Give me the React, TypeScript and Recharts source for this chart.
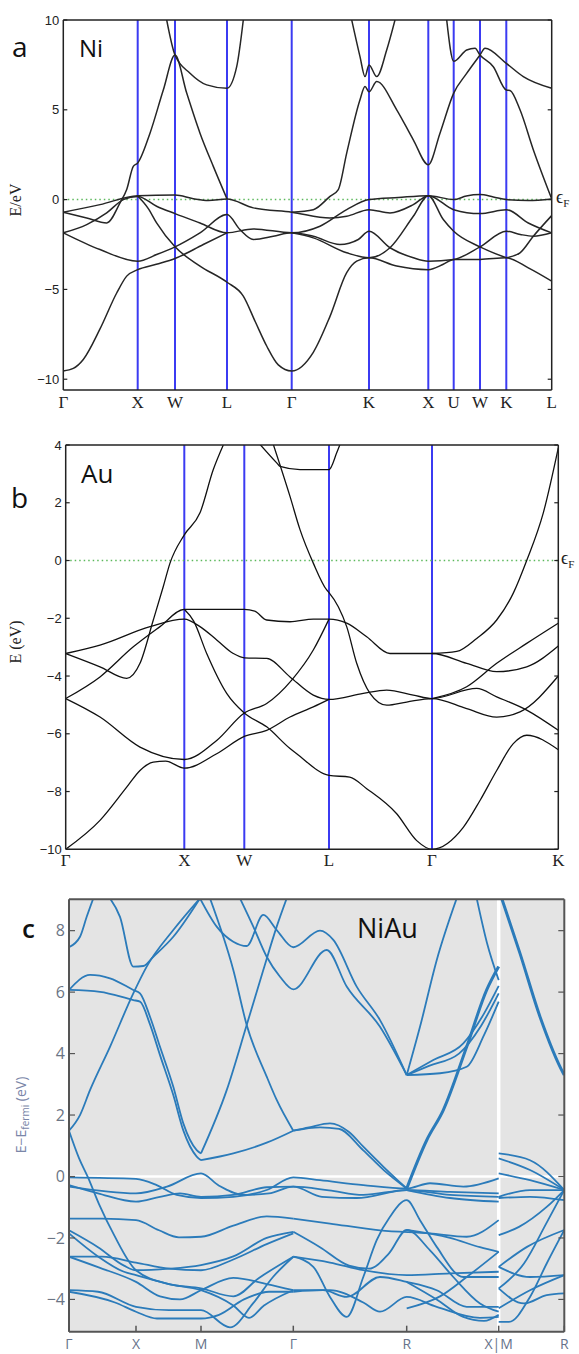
import React from "react";
import { LineChart, Line, XAxis, YAxis, ReferenceLine, CartesianGrid } from "recharts";

type Pt = [number, number];

// ---------- panel a : Ni ----------
const niKpts = [0, 74.4, 111.7, 163.7, 228.4, 305.7, 365, 390.4, 416.7, 443, 488.4];
const niKlabels = ["Γ", "X", "W", "L", "Γ", "K", "X", "U", "W", "K", "L"];
const niEticks = [10, 5, 0, -5, -10];
const niBands: Pt[][] = [
  [[0, -9.54], [10, -9.4], [20, -8.9], [36.7, -7.2], [53.4, -5.2], [63.4, -4.26], [74.4, -3.9], [93, -3.6], [111.7, -3.28], [140, -2.5], [163.7, -1.85]],
  [[74.4, 0.2], [85, -0.5], [93.3, -1.3], [111.7, -2.63], [136.7, -3.7], [163.7, -4.6], [180, -5.37], [192, -6.8], [203.4, -8.15], [215, -9.2], [228.4, -9.54], [250, -8.5], [266.7, -6.5], [283.4, -4.07], [293.4, -3.43], [305.7, -3.24], [333.4, -3.7], [365, -3.9], [380, -3.6], [390.4, -3.33], [416.7, -3.33], [443, -3.24], [465, -3.8], [488.4, -4.54]],
  [[0, -1.85], [36.7, -2.78], [74.4, -3.43], [93.3, -3.06], [111.7, -2.63], [136.7, -1.85], [163.7, -0.83], [176.7, -1.67], [190, -2.22], [210, -2.04], [228.4, -1.85], [250, -2.04], [276.7, -2.5], [295, -2.22], [305.7, -1.76], [326.7, -2.68], [350, -3.24], [365, -3.43], [390.4, -3.33], [416.7, -2.63], [443, -1.76], [457, -1.94], [470, -2.04], [488.4, -1.85]],
  [[0, -1.85], [23.4, -1.39], [43.4, -0.74], [60, 0], [74.4, 0.18], [93.3, -0.37], [111.7, -0.78], [136.7, -1.3], [163.7, -1.85], [190, -1.63], [228.4, -1.85], [256.7, -1.48], [283.4, -0.56], [305.7, 0], [335, 0.12], [365, 0.22], [390.4, 0], [403, 0.2], [416.7, 0.28], [430, 0.15], [443, 0], [465, -0.05], [488.4, 0.04]],
  [[0, -0.7], [36.7, -0.28], [74.4, 0.22], [111.7, 0.25], [130, 0.05], [145, -0.05], [163.7, 0.03], [190, -0.46], [228.4, -0.7], [266.7, -1.02], [283.4, -0.93], [305.7, -0.56], [326.7, -0.74], [350, -0.28], [365, 0.22], [390.4, -0.56], [416.7, -0.78], [443, -0.56], [465, -1.3], [488.4, -1.85]],
  [[0, -0.7], [23.4, -1.02], [43.4, -1.3], [56.7, -0.18], [63.4, 0.56], [70, 1.85], [74.4, 2.04], [86.7, 3.7], [100, 6.1], [111.7, 8.05], [123.4, 5.93], [136.7, 3.7], [150, 1.85], [163.7, 0.04]],
  [[103.4, 10], [111.7, 8.05], [126.7, 7.04], [143.4, 6.39], [163.7, 6.2], [173.4, 7.4], [180, 10]],
  [[228.4, -0.7], [250, -0.56], [266.7, 0.18], [275, 0.56], [283.4, 2.59], [296.7, 5.56], [301.7, 6.3], [305.7, 6.0], [313.4, 6.57], [333.4, 5.0], [350, 3.33], [365, 1.94], [376.7, 3.7], [390.4, 5.93], [403, 7.0], [416.7, 8.05], [421.7, 8.43], [443, 7.59], [460, 6.85], [488.4, 6.2]],
  [[288.4, 10], [296.7, 7.96], [301.7, 6.85], [305.7, 7.5], [313.4, 6.85], [323.4, 8.33], [331.7, 10]],
  [[383.4, 10], [390.4, 7.7], [403.4, 8.33], [411.7, 8.43], [416.7, 8.05], [430, 7.4], [443, 6.1], [446.7, 6.07], [456.7, 5.0], [470, 2.78], [488.4, 0.04]],
  [[228.4, -1.85], [250, -2.13], [283.4, -2.96], [305.7, -3.24], [326.7, -2.68], [350, -0.93], [365, 0.22], [380, -1.11], [390.4, -1.76], [416.7, -2.63], [443, -3.24]],
  [[443, -3.24], [456.7, -2.96], [470, -2.04], [488.4, -0.89]],
];

// ---------- panel b : Au ----------
const auKpts = [0, 118.6, 178.6, 263.3, 366.3, 492.6];
const auKlabels = ["Γ", "X", "W", "L", "Γ", "K"];
const auEticks = [4, 2, 0, -2, -4, -6, -8, -10];
const auBands: Pt[][] = [
  [[0, -3.22], [34.3, -2.93], [84.3, -2.29], [118.6, -2.03], [134.3, -2.29], [151, -2.75], [167.6, -3.22], [178.6, -3.37], [201, -3.39], [224.3, -4.03], [247.6, -4.66], [263.3, -4.81], [297.6, -4.6], [321, -4.49], [347.6, -4.66], [366.3, -4.78], [411, -4.43], [431, -4.72], [461, -5.18], [492.6, -5.88]],
  [[0, -3.22], [34.3, -3.68], [61, -4.08], [74.3, -3.56], [87.6, -2.06], [97.6, -0.9], [104.3, -0.09], [118.6, 0.89], [134.3, 1.65], [147.6, 3.15], [157.6, 4.0]],
  [[0, -4.78], [34.3, -4.03], [67.6, -2.99], [94.3, -2.29], [118.6, -1.69], [150, -1.69], [178.6, -1.69], [189, -1.75], [201, -2.06], [224.3, -2.12], [247.6, -2.03], [263.3, -2.03], [281, -2.17], [301, -2.64], [324.3, -3.22], [366.3, -3.22], [401, -3.56], [431, -3.85], [461, -3.68], [492.6, -2.96]],
  [[0, -4.78], [34.3, -5.42], [74.3, -6.46], [118.6, -6.89], [151, -6.23], [178.6, -5.28], [201, -4.95], [226, -4.14], [247.6, -3.1], [263.3, -2.03]],
  [[0, -10], [34.3, -9.0], [61, -7.85], [74.3, -7.27], [87.6, -6.98], [100, -6.95], [118.6, -7.19], [151, -6.69], [178.6, -6.09], [201, -5.88], [224.3, -5.42], [247.6, -5.07], [263.3, -4.81]],
  [[118.6, -1.69], [128, -2.1], [141, -3.22], [161, -4.6], [178.6, -5.28], [201, -5.76], [224.3, -6.51], [231, -6.69], [263.3, -7.44], [284, -7.5], [301, -7.9], [331, -8.77], [351, -9.7], [366.3, -10], [397.6, -9.24], [414.3, -8.31], [431, -7.27], [447.6, -6.34], [461, -6.05], [492.6, -6.55]],
  [[207.6, 4.02], [224.3, 2.22], [234.3, 1.07], [247.6, -0.09], [261, -1.02], [263.3, -1.11], [272.6, -1.6], [281, -2.29], [291, -3.56], [304.3, -4.6], [321, -5.01], [341, -4.9], [366.3, -4.78], [401, -5.13], [431, -5.42], [454.3, -5.24], [492.6, -4.0]],
  [[194.3, 4.02], [211, 3.38], [214.3, 3.26], [234.3, 3.15], [263.3, 3.15], [271, 3.73], [274.3, 4.02]],
  [[366.3, -3.22], [391, -3.15], [411, -2.7], [431, -2.06], [447.6, -1.13], [461, 0], [477.6, 1.65], [492.6, 3.9]],
  [[366.3, -4.78], [401, -4.37], [431, -3.56], [461, -2.87], [492.6, -2.17]],
];

// ---------- panel c : NiAu ----------
const niauKpts = [0, 67, 132, 224.3, 337.7, 429.7, 495.3];
const niauKlabels = ["Γ", "X", "M", "Γ", "R", "X|M", "R"];
const niauEticks = [8, 6, 4, 2, 0, -2, -4];
const niauBands: Pt[][] = [
  [[0, 7.46], [11, 7.8], [17.7, 8.45], [24.3, 9.05]],
  [[41, 9.05], [51, 8.45], [64.3, 6.83], [74.3, 6.85], [84.3, 7.15], [104.3, 7.8], [131, 9.05]],
  [[0, 6.07], [21, 6.56], [41, 6.45], [64.3, 6.07], [71, 5.96], [81, 5.2], [91, 4.22], [104.3, 2.92], [114.3, 1.73], [127.7, 0.86], [132, 0.75]],
  [[0, 6.07], [31, 6.01], [64.3, 5.74], [71, 5.69], [81, 4.95], [91, 3.95], [104.3, 2.65], [114.3, 1.5], [127.7, 0.65], [132, 0.53]],
  [[0, 1.49], [11, 2.0], [21, 2.81], [41, 4.22], [64.3, 5.96], [77.7, 6.83], [104.3, 8.02], [131, 9.05]],
  [[132, 0.75], [157.7, 2.81], [177.7, 4.93], [194.3, 6.72], [207.7, 8.13], [217.7, 9.05]],
  [[141, 9.05], [164.3, 6.72], [177.7, 4.93], [197.7, 3.25], [207.7, 2.49], [224.3, 1.49]],
  [[131, 9.05], [147.7, 8.13], [164.3, 7.64], [177.7, 7.5], [194.3, 8.51], [207.7, 8.02], [224.3, 7.46], [251, 8.0], [264.3, 7.7], [287.7, 6.18], [311, 5.09], [337.7, 3.3]],
  [[171, 9.05], [184.3, 8.13], [197.7, 7.15], [211, 6.5], [224.3, 6.09], [257.7, 7.37], [277.7, 6.18], [311, 4.87], [337.7, 3.3]],
  [[337.7, 3.3], [351, 4.87], [367.7, 7.04], [387.7, 9.05]],
  [[407.7, 9.05], [418, 7.6], [429.7, 6.39]],
  [[337.7, 3.3], [371, 3.36], [397.7, 3.57], [415, 4.6], [429.7, 5.69]],
  [[337.7, 3.3], [364.3, 3.79], [394.3, 4.33], [415, 5.3], [429.7, 6.2]],
  [[337.7, 3.3], [360, 3.6], [390, 4.0], [412, 4.9], [429.7, 5.96]],
  [[224.3, 1.49], [240, 1.6], [261, 1.73], [280, 1.45], [294.3, 0.97], [315, 0.3], [337.7, -0.39]],
  [[224.3, 1.49], [251, 1.6], [270, 1.55], [294.3, 0.85], [315, 0.2], [337.7, -0.39]],
  [[132, 0.53], [164.3, 0.75], [197.7, 1.1], [224.3, 1.49]],
  [[0, -0.03], [67, -0.08], [87.7, -0.28], [107.7, -0.6], [132, -0.7], [164.3, -0.66], [197.7, -0.44], [224.3, -0.03], [251, -0.12], [294.3, -0.28], [337.7, -0.39], [361, -0.22], [394.3, -0.33], [429.7, -0.06]],
  [[0, -0.28], [29, -0.55], [67, -0.82], [91, -0.66], [111, -0.55], [132, -0.66], [164.3, -0.6], [197.7, -0.35], [224.3, -0.33], [260, -0.45], [294.3, -0.6], [337.7, -0.44], [381, -0.5], [429.7, -0.55]],
  [[0, -0.33], [67, -0.55], [98, -0.33], [132, 0.1], [150, -0.3], [175, -0.6], [200, -0.55], [224.3, -0.33], [253, -0.66], [287.7, -0.7], [337.7, -0.44], [381, -0.6], [429.7, -0.66]],
  [[0, 1.49], [10, 0.6], [19, -0.03], [30, -0.9], [45, -1.9], [67, -3.05], [100, -3.5], [132, -3.64], [164.3, -3.9], [190, -3.3], [224.3, -2.61]],
  [[224.3, -2.61], [244.3, -2.94], [261, -3.92], [277.7, -4.57], [294.3, -3.27], [307.7, -2.07], [321, -1.31], [337.7, -0.77], [351, -1.42], [367.7, -2.29], [394.3, -3.27], [429.7, -3.27]],
  [[224.3, -1.8], [251, -2.3], [280, -2.9], [300, -3.0], [320, -2.5], [337.7, -1.74], [361, -2.4], [384.3, -3.27], [411, -4.13], [429.7, -4.4]],
  [[224.3, -1.37], [261, -1.53], [311, -1.75], [361, -1.85], [397.7, -1.96], [429.7, -1.42]],
  [[224.3, -3.7], [261, -3.7], [294.3, -4.1], [311, -4.4], [337.7, -3.92], [367.7, -4.24], [411, -4.6], [429.7, -4.57]],
  [[224.3, -2.61], [261, -2.8], [294.3, -3.05], [337.7, -3.21], [381, -3.15], [429.7, -3.1]],
  [[224.3, -3.75], [254, -3.7], [277.7, -3.92], [311, -3.27], [337.7, -3.43], [367.7, -3.7], [397.7, -4.24], [429.7, -4.24]],
  [[337.7, -0.44], [381, -0.7], [429.7, -0.82]],
  [[337.7, -1.74], [381, -2.0], [411, -2.3], [429.7, -2.45]],
  [[337.7, -4.29], [371, -3.9], [397.7, -3.27], [429.7, -2.45]],
  [[337.7, -3.43], [367.7, -4.0], [394.3, -4.57], [415, -4.7], [429.7, -4.5]],
  [[0, -1.37], [33, -1.37], [67, -1.42], [90, -1.75], [110, -1.98], [132, -1.96], [164.3, -1.6], [197.7, -1.3], [224.3, -1.37]],
  [[0, -1.75], [29, -2.3], [55, -2.9], [67, -3.05], [100, -3.0], [132, -2.88], [164.3, -2.6], [197.7, -2.0], [224.3, -1.8]],
  [[0, -1.85], [29, -2.6], [55, -3.1], [67, -3.21], [100, -3.5], [132, -3.7], [164.3, -4.2], [180, -4.6], [195, -4.2], [224.3, -3.7]],
  [[0, -2.61], [33, -2.61], [67, -2.8], [100, -3.0], [132, -3.05], [164.3, -2.7], [197.7, -2.2], [224.3, -1.85]],
  [[0, -2.61], [29, -2.95], [67, -3.43], [91, -3.9], [111, -4.0], [132, -3.7], [164.3, -3.3], [197.7, -3.5], [224.3, -3.7]],
  [[0, -3.7], [29, -3.75], [67, -4.24], [100, -4.35], [132, -4.35], [161, -4.91], [184, -4.13], [204, -3.27], [224.3, -2.61]],
  [[0, -3.75], [46, -4.1], [67, -4.4], [88, -4.62], [132, -4.62], [150, -4.5], [175, -4.0], [200, -3.75], [224.3, -3.75]],
  // M -> R segment
  [[429.7, 0.75], [461, 0.53], [495.3, -0.44]],
  [[429.7, 0.59], [461, 0.21], [495.3, -0.44]],
  [[429.7, 0.1], [461, -0.12], [495.3, -0.44]],
  [[429.7, -0.66], [461, -0.44], [495.3, -0.44]],
  [[429.7, -0.7], [461, -0.66], [495.3, -0.77]],
  [[429.7, -1.91], [450, -1.64], [477.7, -0.99], [495.3, -0.44]],
  [[429.7, -2.94], [458, -2.29], [495.3, -1.74]],
  [[429.7, -2.94], [461, -3.27], [495.3, -3.21]],
  [[429.7, -3.64], [455, -2.83], [477.7, -1.5], [495.3, -0.44]],
  [[429.7, -3.64], [455, -4.13], [477.7, -3.86], [495.3, -3.8]],
  [[429.7, -4.29], [461, -3.7], [495.3, -3.21]],
  [[429.7, -4.73], [440, -4.73], [461, -3.92], [477.7, -2.83], [495.3, -1.74]],
];
const niauBoldBands: Pt[][] = [
  [[337.7, -0.39], [357.7, 1.18], [374.3, 2.16], [397.7, 4.22], [417.7, 6.07], [429.7, 6.83]],
  [[432.7, 9.05], [451, 7.26], [471, 5.2], [494.3, 3.36], [495.3, 3.3]],
];

const fmtNum = (v: number) => (v < 0 ? `\u2212${Math.abs(v)}` : `${v}`);

type Look = {
  frame: string;
  frameW: number;
  band: string;
  bandW: number;
  tickFont: string;
  tickFs: number;
  tickColor: string;
  kFont: string;
  kFs: number;
  kColor: string;
  kOffset: number;
  tickLen: number;
  tickStroke: string;
  bottomTicks: boolean;
};

type RefSpec = { x?: number; y?: number; stroke: string; width: number; dash?: string };

type PanelProps = {
  top: number;
  height: number;
  margin: { top: number; right: number; bottom: number; left: number };
  kpts: number[];
  klabels: string[];
  eticks: number[];
  edomain: [number, number];
  bands: Pt[][];
  boldBands?: Pt[][];
  look: Look;
  refs: RefSpec[];
  bg?: string;
};

const GAP = 6;

// axes are 1px thick (recharts skips zero-size axes), so the margins are 1px short
function BandPanel({ top, height, margin, kpts, klabels, eticks, edomain, bands, boldBands = [], look, refs, bg }: PanelProps) {
  const kmax = kpts[kpts.length - 1];
  const m = { top: margin.top - 1, right: margin.right - 1, bottom: margin.bottom - 1, left: margin.left - 1 };

  const leftTick = (p: any) => {
    const ax = p.x + GAP;
    return (
      <g>
        <line x1={ax} x2={ax + look.tickLen} y1={p.y} y2={p.y} stroke={look.tickStroke} strokeWidth={1.2} />
        <text x={ax - 4} y={p.y} dy="0.36em" textAnchor="end" fontFamily={look.tickFont} fontSize={look.tickFs} fill={look.tickColor}>
          {fmtNum(p.payload.value)}
        </text>
      </g>
    );
  };
  const rightTick = (p: any) => {
    const ax = p.x - GAP;
    return <line x1={ax} x2={ax - look.tickLen} y1={p.y} y2={p.y} stroke={look.tickStroke} strokeWidth={1.2} />;
  };
  const bottomTick = (p: any) => {
    const ay = p.y - GAP;
    const i = kpts.indexOf(p.payload.value);
    return (
      <g>
        {look.bottomTicks && <line x1={p.x} x2={p.x} y1={ay} y2={ay - look.tickLen} stroke={look.tickStroke} strokeWidth={1.5} />}
        <text x={p.x} y={ay + look.kOffset} dy="0.36em" textAnchor="middle" fontFamily={look.kFont} fontSize={look.kFs} fill={look.kColor}>
          {klabels[i]}
        </text>
      </g>
    );
  };

  return (
    <div style={{ position: "absolute", left: 0, top, width: 579, height }}>
      <LineChart width={579} height={height} margin={m}>
        {bg && <CartesianGrid fill={bg} horizontal={false} vertical={false} stroke="none" />}
        <XAxis
          type="number"
          dataKey="k"
          domain={[0, kmax]}
          ticks={kpts}
          interval={0}
          height={1}
          tickSize={0}
          tickMargin={GAP}
          tickLine={false}
          tick={bottomTick}
          axisLine={{ stroke: look.frame, strokeWidth: look.frameW }}
          allowDataOverflow
        />
        <XAxis
          xAxisId="top"
          orientation="top"
          type="number"
          domain={[0, kmax]}
          height={1}
          tick={false}
          tickLine={false}
          axisLine={{ stroke: look.frame, strokeWidth: look.frameW }}
        />
        <YAxis
          type="number"
          domain={edomain}
          ticks={eticks}
          interval={0}
          width={1}
          tickSize={0}
          tickMargin={GAP}
          tickLine={false}
          tick={leftTick}
          axisLine={{ stroke: look.frame, strokeWidth: look.frameW }}
          allowDataOverflow
        />
        <YAxis
          yAxisId="right"
          orientation="right"
          type="number"
          domain={edomain}
          ticks={eticks}
          interval={0}
          width={1}
          tickSize={0}
          tickMargin={GAP}
          tickLine={false}
          tick={rightTick}
          axisLine={{ stroke: look.frame, strokeWidth: look.frameW }}
          allowDataOverflow
        />
        {refs.map((r, i) => (
          <ReferenceLine
            key={`ref-${i}`}
            x={r.x}
            y={r.y}
            stroke={r.stroke}
            strokeWidth={r.width}
            strokeDasharray={r.dash}
          />
        ))}
        {bands.map((b, i) => (
          <Line
            key={`band-${i}`}
            data={b.map(([k, e]) => ({ k, e }))}
            dataKey="e"
            type="monotone"
            stroke={look.band}
            strokeWidth={look.bandW}
            dot={false}
            activeDot={false}
            isAnimationActive={false}
          />
        ))}
        {boldBands.map((b, i) => (
          <Line
            key={`bold-${i}`}
            data={b.map(([k, e]) => ({ k, e }))}
            dataKey="e"
            type="monotone"
            stroke={look.band}
            strokeWidth={look.bandW + 1.2}
            dot={false}
            activeDot={false}
            isAnimationActive={false}
          />
        ))}
      </LineChart>
    </div>
  );
}

const mplLook: Look = {
  frame: "#222",
  frameW: 1.5,
  band: "#262626",
  bandW: 1.5,
  tickFont: "Liberation Sans, Arial, sans-serif",
  tickFs: 13,
  tickColor: "#222",
  kFont: "Liberation Serif, Times New Roman, serif",
  kFs: 17,
  kColor: "#222",
  kOffset: 12,
  tickLen: 4,
  tickStroke: "#222",
  bottomTicks: false,
};

const niauLook: Look = {
  frame: "#555",
  frameW: 2,
  band: "#2b7bba",
  bandW: 1.8,
  tickFont: "Open Sans, Noto Sans, sans-serif",
  tickFs: 16,
  tickColor: "#6b7585",
  kFont: "Open Sans, Noto Sans, sans-serif",
  kFs: 14,
  kColor: "#66728a",
  kOffset: 12,
  tickLen: 6,
  tickStroke: "#555",
  bottomTicks: true,
};

const BLUE = "#3b3bf2";
const GREEN = "#5cb85c";

export default function App() {
  const niRefs: RefSpec[] = [
    ...niKpts.slice(1, -1).map((k) => ({ x: k, stroke: BLUE, width: 2 })),
    { y: 0, stroke: GREEN, width: 1.5, dash: "1.5 3" },
  ];
  const auRefs: RefSpec[] = [
    ...auKpts.slice(1, -1).map((k) => ({ x: k, stroke: BLUE, width: 2 })),
    { y: 0, stroke: GREEN, width: 1.5, dash: "1.5 3" },
  ];
  const niauRefs: RefSpec[] = [
    { y: 0, stroke: "#ffffff", width: 2.5 },
    { x: niauKpts[5], stroke: "#ffffff", width: 3.5 },
  ];

  const serif = "Liberation Serif, Times New Roman, serif";
  const sans = "Open Sans, Noto Sans, sans-serif";

  return (
    <div style={{ position: "absolute", left: 0, top: 0, width: 579, height: 1354, background: "#fff", overflow: "hidden" }}>
      <BandPanel
        top={0}
        height={420}
        margin={{ top: 20, right: 27.3, bottom: 30, left: 63.3 }}
        kpts={niKpts}
        klabels={niKlabels}
        eticks={niEticks}
        edomain={[-10.6, 10]}
        bands={niBands}
        look={mplLook}
        refs={niRefs}
      />
      <BandPanel
        top={420}
        height={450}
        margin={{ top: 25, right: 20.7, bottom: 20.7, left: 65.7 }}
        kpts={auKpts}
        klabels={auKlabels}
        eticks={auEticks}
        edomain={[-10, 4]}
        bands={auBands}
        look={{ ...mplLook, bandW: 1.3, band: "#111", kOffset: 11 }}
        refs={auRefs}
      />
      <BandPanel
        top={870}
        height={484}
        margin={{ top: 29.3, right: 14.7, bottom: 22.3, left: 69 }}
        kpts={niauKpts}
        klabels={niauKlabels}
        eticks={niauEticks}
        edomain={[-5.05, 9.02]}
        bands={niauBands}
        boldBands={niauBoldBands}
        look={niauLook}
        refs={niauRefs}
        bg="#e4e4e4"
      />
      <svg width={579} height={1354} style={{ position: "absolute", left: 0, top: 0, pointerEvents: "none" }}>
        <text x={12} y={57} fontFamily={sans} fontSize={28} fill="#111">a</text>
        <text x={79} y={57} fontFamily={sans} fontSize={24} fill="#111">Ni</text>
        <text transform="translate(21,200) rotate(-90)" textAnchor="middle" fontFamily={serif} fontSize={16} fill="#222">E/eV</text>
        <text x={556} y={203} fontFamily={serif} fontSize={18} fill="#222">
          ϵ<tspan fontSize={11} dy={4}>F</tspan>
        </text>

        <text x={11} y={508} fontFamily={sans} fontSize={28} fill="#111">b</text>
        <text x={81} y={483} fontFamily={sans} fontSize={26} fill="#111">Au</text>
        <text transform="translate(21,642) rotate(-90)" textAnchor="middle" fontFamily={serif} fontSize={16} fill="#222">E (eV)</text>
        <text x={561} y={564} fontFamily={serif} fontSize={18} fill="#222">
          ϵ<tspan fontSize={11} dy={4}>F</tspan>
        </text>

        <text x={22} y={938} fontFamily={sans} fontSize={26} fontWeight={600} fill="#111">c</text>
        <text x={357} y={938} fontFamily={sans} fontSize={27} fill="#111">NiAu</text>
        <text transform="translate(26,1115) rotate(-90)" textAnchor="middle" fontFamily={sans} fontSize={14} fill="#7a86a8">
          E−E<tspan fontSize={10} dy={3}>fermi</tspan>
          <tspan dy={-3}> (eV)</tspan>
        </text>
      </svg>
    </div>
  );
}
